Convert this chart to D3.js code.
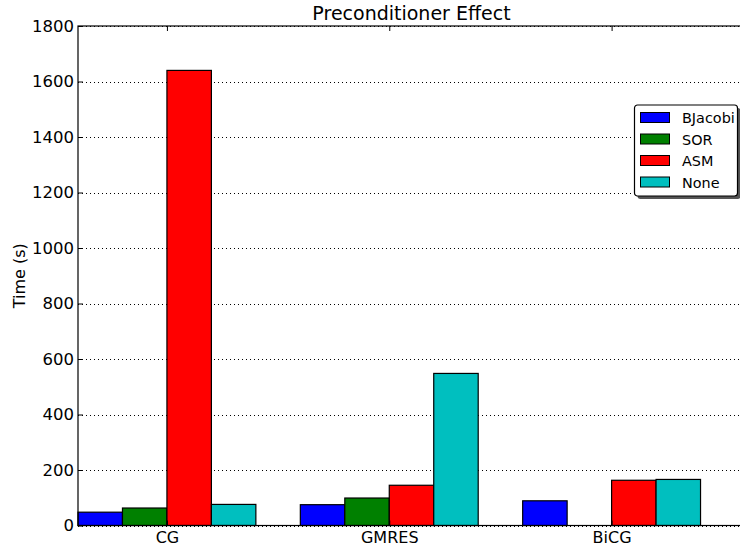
<!DOCTYPE html>
<html>
<head>
<meta charset="utf-8">
<script src="https://cdn.jsdelivr.net/npm/d3@7"></script>
<style>
  html, body { margin: 0; padding: 0; background: #fff; }
  svg { display: block; font-family: "DejaVu Sans", sans-serif; }
</style>
</head>
<body>
<svg id="chart" width="740" height="548"></svg>
<script>
// Solver / preconditioner timings
const solvers = ["CG", "GMRES", "BiCG"];
const preconditioners = ["BJacobi", "SOR", "ASM", "None"];
const colors = ["#0000ff", "#008000", "#ff0000", "#00bfbf"];
const bjacobi = [48, 75, 89];
const sor = [63, 99, 0];
const asm = [1640, 145, 163];
const none = [76, 548, 166];
const yTicks = [0, 200, 400, 600, 800, 1000, 1200, 1400, 1600, 1800];

const seriesValues = [bjacobi, sor, asm, none];

const svg = d3.select("#chart");
const margin = { left: 78, top: 26, right: 745, bottom: 525.5 };
const FONT = "'DejaVu Sans', sans-serif";

const barW = 0.2;
const x = d3.scaleLinear().domain([0, 3]).range([margin.left, margin.right]);
const y = d3.scaleLinear().domain([0, 1800]).range([margin.bottom, margin.top]);

// Dotted horizontal grid
svg.append("g")
  .selectAll("line")
  .data(yTicks)
  .join("line")
  .attr("x1", margin.left).attr("x2", margin.right)
  .attr("y1", d => Math.round(y(d)) + 0.5).attr("y2", d => Math.round(y(d)) + 0.5)
  .attr("stroke", "#000")
  .attr("stroke-width", 1)
  .attr("stroke-dasharray", "1,3");

// Bars
const bars = [];
seriesValues.forEach((vals, j) => {
  vals.forEach((v, i) => bars.push({ i, j, v }));
});
svg.append("g")
  .selectAll("rect")
  .data(bars.filter(b => b.v > 0))
  .join("rect")
  .attr("x", d => x(d.i + d.j * barW))
  .attr("width", d => x(barW) - x(0))
  .attr("y", d => y(d.v))
  .attr("height", d => y(0) - y(d.v))
  .attr("fill", d => colors[d.j])
  .attr("stroke", "#000")
  .attr("stroke-width", 1.2);

// Frame
svg.append("rect")
  .attr("x", margin.left).attr("y", margin.top)
  .attr("width", margin.right - margin.left)
  .attr("height", margin.bottom - margin.top)
  .attr("fill", "none")
  .attr("stroke", "#000")
  .attr("stroke-width", 1.2);

// Y axis (ticks pointing inward)
const yAxis = d3.axisLeft(y).tickValues(yTicks).tickSize(-5).tickPadding(4).tickFormat(d3.format("d"));
const gy = svg.append("g").attr("transform", `translate(${margin.left},0)`).call(yAxis);
gy.select(".domain").remove();
gy.selectAll("text").attr("font-size", 16.5).attr("font-family", FONT).attr("fill", "#000");
gy.selectAll("line").attr("stroke", "#000");

// X axis at bottom (ticks inward) and matching ticks on top spine
const xTickPos = solvers.map((s, i) => i + 2 * barW);
const xAxis = d3.axisBottom(x).tickValues(xTickPos).tickSize(-5).tickPadding(6)
  .tickFormat((d, k) => solvers[k]);
const gx = svg.append("g").attr("transform", `translate(0,${margin.bottom})`).call(xAxis);
gx.select(".domain").remove();
gx.selectAll("text").attr("font-size", 16).attr("font-family", FONT).attr("fill", "#000");
gx.selectAll("line").attr("stroke", "#000");

const xTop = d3.axisTop(x).tickValues(xTickPos).tickSize(-5).tickFormat("");
const gt = svg.append("g").attr("transform", `translate(0,${margin.top})`).call(xTop);
gt.select(".domain").remove();
gt.selectAll("line").attr("stroke", "#000");

// Title and axis label
svg.append("text")
  .attr("x", (margin.left + margin.right) / 2)
  .attr("y", 20)
  .attr("text-anchor", "middle")
  .attr("font-size", 19)
  .attr("font-family", FONT)
  .text("Preconditioner Effect");

svg.append("text")
  .attr("transform", `translate(25,${(margin.top + margin.bottom) / 2}) rotate(-90)`)
  .attr("text-anchor", "middle")
  .attr("font-size", 16)
  .attr("font-family", FONT)
  .text("Time (s)");

// Legend with rounded frame and drop shadow
const lg = svg.append("g").attr("transform", "translate(634.5,105)");
lg.append("rect")
  .attr("x", 3).attr("y", 3).attr("width", 103).attr("height", 91)
  .attr("rx", 3)
  .attr("fill", "#555");
lg.append("rect")
  .attr("x", 0).attr("y", 0).attr("width", 103).attr("height", 91)
  .attr("rx", 3)
  .attr("fill", "#fff")
  .attr("stroke", "#000")
  .attr("stroke-width", 1.2);
const rows = lg.selectAll("g.row")
  .data(preconditioners)
  .join("g")
  .attr("class", "row")
  .attr("transform", (d, k) => `translate(0,${12.5 + k * 21.5})`);
rows.append("rect")
  .attr("x", 6).attr("y", -5).attr("width", 29).attr("height", 10)
  .attr("fill", (d, k) => colors[k])
  .attr("stroke", "#000")
  .attr("stroke-width", 1);
rows.append("text")
  .attr("x", 47.5).attr("y", 5.5)
  .attr("font-size", 14.4)
  .attr("font-family", FONT)
  .text(d => d);
</script>
</body>
</html>
